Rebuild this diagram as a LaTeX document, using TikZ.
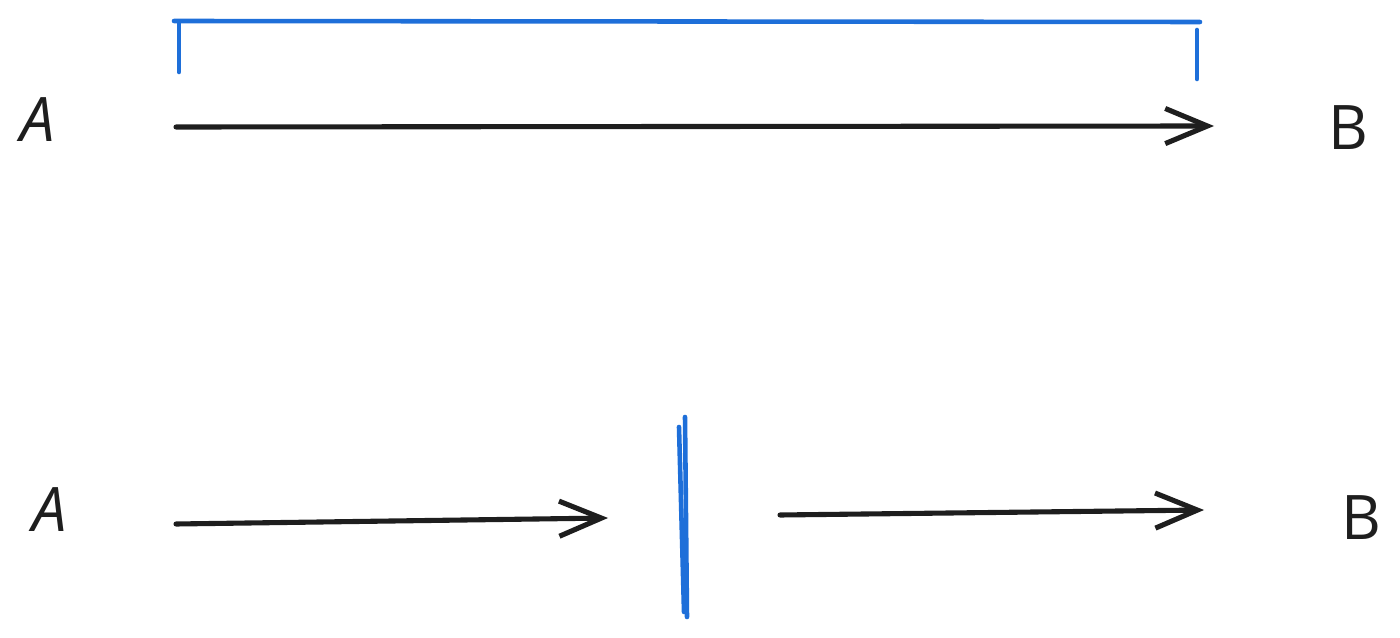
\documentclass[tikz,border=0pt]{standalone}
\usepackage{fontspec}
\setmainfont{Open Sans}
\usetikzlibrary{arrows.meta}
\definecolor{sketchblue}{HTML}{1E6FD9}
\definecolor{ink}{HTML}{1E1E1E}
\begin{document}
\begin{tikzpicture}[x=0.02cm,y=-0.02cm,
  lbl/.style={font=\fontsize{35}{40}\selectfont, text=ink, inner sep=0pt},
  arr/.style={draw=ink, line width=2.9pt, line cap=round, line join=round,
    -{Straight Barb[length=24pt,width=20pt,line width=2.9pt]}},
  bluestroke/.style={draw=sketchblue, line width=2.6pt, line cap=round}]
\useasboundingbox (0,0) rectangle (1400,638);
% top row
\node[lbl] (A1) at (38,120) {\itshape A};
\node[lbl] (B1) at (1348,128) {B};
\coordinate (a1s) at (176,127);
\coordinate (a1e) at (1214,126);
\draw[arr] (a1s) -- (a1e);
\coordinate (tl) at (174,21);
\coordinate (tr) at (1200,22);
\coordinate (lt) at (179,22);
\coordinate (lb) at (179,72);
\coordinate (rt) at (1197,30);
\coordinate (rb) at (1197,79);
\draw[bluestroke] (tl) -- (tr);
\draw[bluestroke] (lt) -- (lb);
\draw[bluestroke] (rt) -- (rb);
% bottom row
\node[lbl] (A2) at (50,510) {\itshape A};
\node[lbl] (B2) at (1361,518) {B};
\coordinate (a2s) at (176,524);
\coordinate (a2e) at (608,518);
\draw[arr] (a2s) -- (a2e);
\coordinate (ct) at (685,417);
\coordinate (cb) at (687,617);
\coordinate (ct2) at (679,427);
\coordinate (cb2) at (684,612);
\draw[bluestroke] (ct) -- (cb);
\draw[bluestroke] (ct2) -- (cb2);
\coordinate (a3s) at (780,515);
\coordinate (a3e) at (1204,510);
\draw[arr] (a3s) -- (a3e);
\end{tikzpicture}
\end{document}
